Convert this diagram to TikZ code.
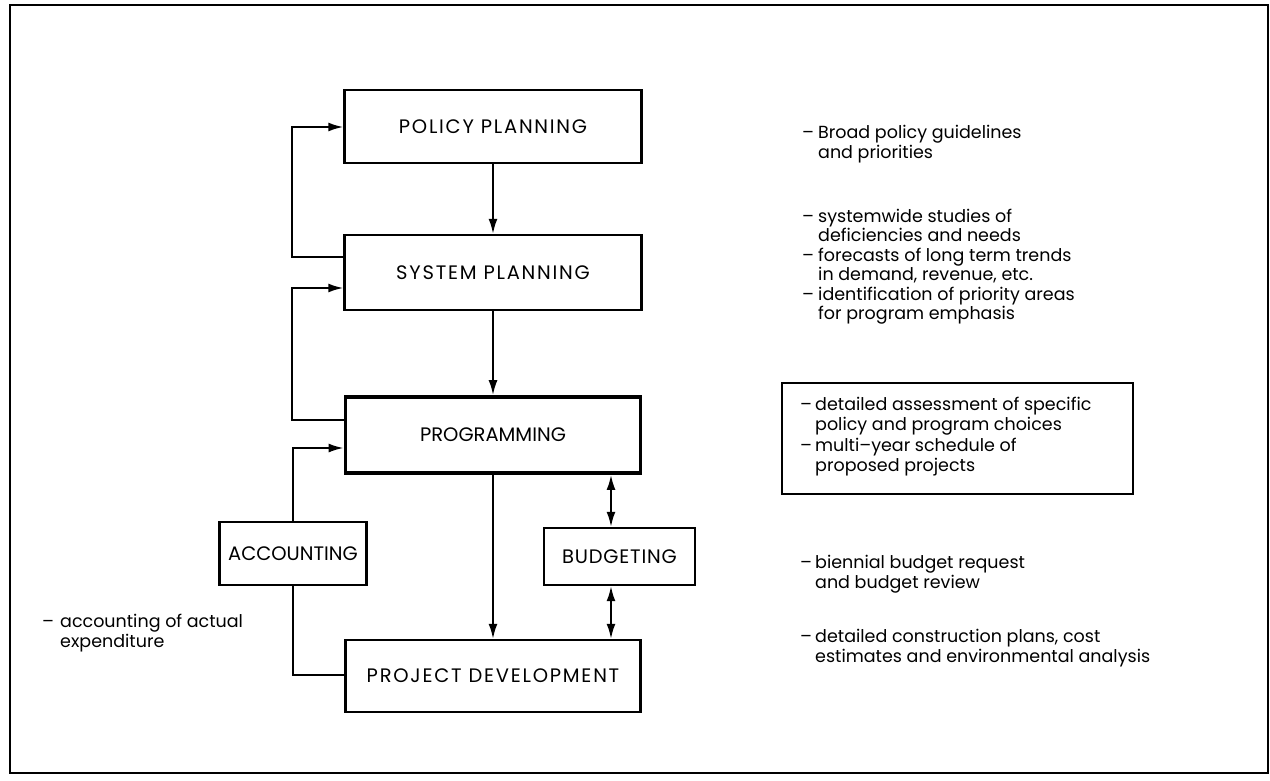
\documentclass[tikz,border=0pt]{standalone}
\usepackage{fontspec}
\setmainfont{Poppins}
\usetikzlibrary{arrows.meta}
\newcommand{\wideLS}[2]{{\addfontfeatures{LetterSpace=#1}#2}}
\begin{document}
\begin{tikzpicture}[x=1pt,y=-1pt,
  box/.style={draw, line width=2.4pt, inner sep=0pt, font=\fontsize{19.5}{22}\selectfont},
  conn/.style={line width=2pt},
  tip/.style={-{Latex[length=15pt,width=9pt]}},
  dtip/.style={{Latex[length=15pt,width=9pt]}-{Latex[length=15pt,width=9pt]}},
  txt/.style={anchor=base west, inner sep=0pt, font=\fontsize{17.5}{20}\selectfont}]
\useasboundingbox (0,0) rectangle (1270,780);
\draw[line width=2.8pt] (10,5) rectangle (1268,773);

% main boxes
\node[box, minimum width=297pt, minimum height=73pt] (policy) at (493,126.5) {\wideLS{9}{POLICY PLANNING}};
\node[box, minimum width=297pt, minimum height=75pt] (system) at (493,272.5) {\wideLS{9}{SYSTEM PLANNING}};
\node[box, line width=3.8pt, minimum width=295pt, minimum height=76pt] (prog) at (493,435) {\wideLS{0}{PROGRAMMING}};
\node[box, minimum width=147pt, minimum height=63pt] (acct) at (293,553.5) {\wideLS{0}{ACCOUNTING}};
\node[box, minimum width=151pt, minimum height=57pt] (budget) at (619.5,556.5) {\wideLS{4}{BUDGETING}};
\node[box, minimum width=295pt, minimum height=72pt] (projdev) at (493,676) {\wideLS{9}{PROJECT DEVELOPMENT}};

% vertical flow
\draw[conn,tip] (policy) -- (system);
\draw[conn,tip] (system) -- (prog);
\draw[conn,tip] (prog) -- (projdev);

% feedback loops
\coordinate (fbA) at (292,257);
\coordinate (fbB) at (292,127);
\coordinate (fbC) at (292,420);
\coordinate (fbD) at (292,288);
\draw[conn,tip] (system.west |- fbA) -- (fbA) -- (fbB) -- (policy.west |- fbB);
\draw[conn,tip] (prog.west |- fbC) -- (fbC) -- (fbD) -- (system.west |- fbD);

% accounting
\coordinate (acA) at (293,448);
\coordinate (acB) at (293,675);
\draw[conn,tip] (acct.north) -- (acA) -- (prog.west |- acA);
\draw[conn] (acct.south) -- (acB) -- (projdev.west |- acB);

% budgeting
\coordinate (bx) at (611,0);
\draw[conn,dtip] (prog.south -| bx) -- (budget.north -| bx);
\draw[conn,dtip] (budget.south -| bx) -- (projdev.north -| bx);

% right-hand texts
\node[txt] (d1) at (802,138) {–};
\node[txt] (t1a) at (818,138) {Broad policy guidelines};
\node[txt] (t1b) at (818,158) {and priorities};

\node[txt] (d2) at (802,222) {–};
\node[txt] (t2a) at (818,222) {systemwide studies of};
\node[txt] (t2b) at (818,241.5) {deficiencies and needs};
\node[txt] (d3) at (802,261) {–};
\node[txt] (t3a) at (818,261) {forecasts of long term trends};
\node[txt] (t3b) at (818,280.5) {in demand, revenue, etc.};
\node[txt] (d4) at (802,300) {–};
\node[txt] (t4a) at (818,300) {identification of priority areas};
\node[txt] (t4b) at (818,319.5) {for program emphasis};

\node[draw, line width=2.2pt, minimum width=351pt, minimum height=111pt, inner sep=0pt] (tbox) at (957.5,438.5) {};
\node[txt] (d5) at (800,410) {–};
\node[txt] (t5a) at (815,410) {detailed assessment of specific};
\node[txt] (t5b) at (815,430.5) {policy and program choices};
\node[txt] (d6) at (800,451) {–};
\node[txt] (t6a) at (815,451) {multi–year schedule of};
\node[txt] (t6b) at (815,471.5) {proposed projects};

\node[txt] (d7) at (800,568) {–};
\node[txt] (t7a) at (815,568) {biennial budget request};
\node[txt] (t7b) at (815,588) {and budget review};

\node[txt] (d8) at (800,642) {–};
\node[txt] (t8a) at (815,642) {detailed construction plans, cost};
\node[txt] (t8b) at (815,662) {estimates and environmental analysis};

% left text
\node[txt] (d9) at (42,627) {–};
\node[txt] (t9a) at (60,627) {accounting of actual};
\node[txt] (t9b) at (60,647) {expenditure};
\end{tikzpicture}
\end{document}
